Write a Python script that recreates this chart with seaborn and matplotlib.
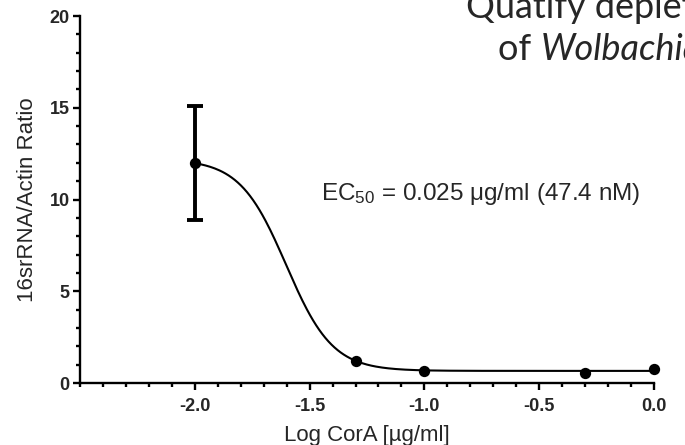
import numpy as np
import pandas as pd
import matplotlib
matplotlib.use("Agg")
import matplotlib.pyplot as plt
import seaborn as sns
from matplotlib.ticker import MultipleLocator

# ---- data ----
log_conc = [-2.0, -1.3, -1.0, -0.3, 0.0]
ratio = [12.0, 1.2, 0.67, 0.56, 0.76]
ratio_sd = [3.1, 0.0, 0.0, 0.0, 0.0]

fit_top = 12.2
fit_bottom = 0.66
fit_log_ec50 = -1.602
fit_hill = 4.3

x_ticks = [-2.0, -1.5, -1.0, -0.5, 0.0]
y_ticks = [0, 5, 10, 15, 20]

x_label = "Log CorA [µg/ml]"
y_label = "16srRNA/Actin Ratio"
ec50_text = r"EC$_{50}$ = 0.025 μg/ml (47.4 nM)"
slide_line1 = "Quatify depletion"
slide_line2_a = "of "
slide_line2_b = "Wolbachia"

# ---- styling ----
sns.set_style("ticks")
plt.rcParams["font.family"] = ["Liberation Sans", "DejaVu Sans"]
plt.rcParams["mathtext.fontset"] = "custom"
plt.rcParams["mathtext.rm"] = "Liberation Sans"
plt.rcParams["mathtext.it"] = "Liberation Sans:italic"
plt.rcParams["mathtext.default"] = "regular"

fig = plt.figure(figsize=(6.85, 4.45), dpi=100)
ax = fig.add_axes([80 / 685, 1 - 383 / 445, 574 / 685, 367 / 445])

df = pd.DataFrame({"x": log_conc, "y": ratio, "sd": ratio_sd})
xs = np.linspace(min(log_conc), max(log_conc), 300)
curve = pd.DataFrame({
    "x": xs,
    "y": fit_bottom + (fit_top - fit_bottom) / (1 + 10 ** ((xs - fit_log_ec50) * fit_hill)),
})

sns.lineplot(data=curve, x="x", y="y", ax=ax, color="black", linewidth=1.5, zorder=2)
err = df[df["sd"] > 0]
ax.errorbar(err["x"], err["y"], yerr=err["sd"], fmt="none", ecolor="black",
            elinewidth=2.8, capsize=5.5, capthick=2.8, zorder=3)
sns.scatterplot(data=df, x="x", y="y", ax=ax, color="black", s=66,
                edgecolor="black", linewidth=0, zorder=4, clip_on=False)

ax.set_xlim(-2.5, 0.0)
ax.set_ylim(0, 20)
ax.set_xticks(x_ticks)
ax.set_xticklabels([f"{t:.1f}" for t in x_ticks])
ax.set_yticks(y_ticks)
ax.xaxis.set_minor_locator(MultipleLocator(0.1))
ax.yaxis.set_minor_locator(MultipleLocator(1))

for s in ["top", "right"]:
    ax.spines[s].set_visible(False)
for s in ["left", "bottom"]:
    ax.spines[s].set_linewidth(1.7)
    ax.spines[s].set_color("black")

ax.tick_params(which="major", length=5, width=1.7, color="black", direction="out")
ax.tick_params(which="minor", length=3, width=1.7, color="black", direction="out")
ax.tick_params(axis="x", which="major", pad=6)
ax.tick_params(axis="y", which="major", pad=2.5)
for lab in ax.get_xticklabels() + ax.get_yticklabels():
    lab.set_fontweight("bold")
    lab.set_fontsize(13)

ax.set_xlabel(x_label, fontsize=16, labelpad=7)
ax.set_ylabel(y_label, fontsize=16, labelpad=8)

fig.text(321 / 685, 1 - 200 / 445, ec50_text, fontsize=17.5, ha="left", va="baseline")

fig.text(466 / 685, 1 - 18 / 445, slide_line1, fontsize=26, family="Lato",
         ha="left", va="baseline")
t2 = fig.text(498 / 685, 1 - 60 / 445, slide_line2_a, fontsize=26, family="Lato",
              ha="left", va="baseline")
fig.canvas.draw()
bb = t2.get_window_extent()
fig.text(bb.x1 / fig.bbox.width, 1 - 60 / 445, slide_line2_b, fontsize=26, family="Lato",
         style="italic", ha="left", va="baseline")

fig.savefig("out.png", dpi=100)
